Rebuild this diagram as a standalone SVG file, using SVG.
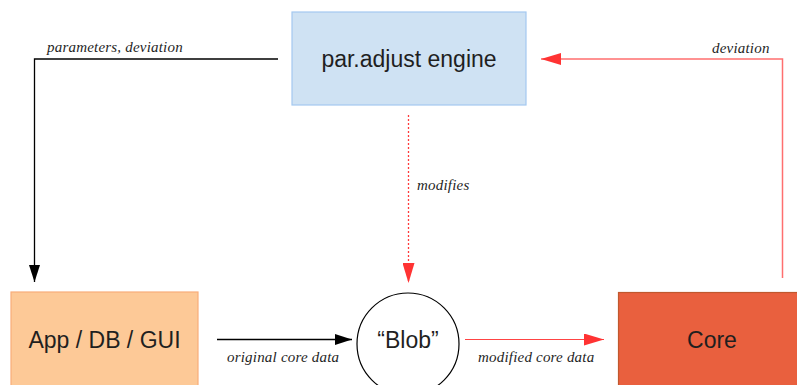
<svg xmlns="http://www.w3.org/2000/svg" width="797" height="385" viewBox="0 0 797 385">
  <style>
    .node-text { font-family: "Liberation Sans", Arial, sans-serif; font-size: 23px; fill: #1f1f1f; text-anchor: middle; }
    .label { font-family: "Liberation Serif", "Times New Roman", serif; font-style: italic; font-size: 15px; fill: #1f1f1f; letter-spacing: 0.2px; }
    .black { stroke: #000; stroke-width: 1.3; fill: none; }
    .red { stroke: #ff6f6f; stroke-width: 1.5; fill: none; }
    .red-dot { stroke: #ff3b3b; stroke-width: 1.3; stroke-dasharray: 2 2; fill: none; }
  </style>
  <defs>
    <marker id="ah-black" viewBox="0 0 17 11" refX="17" refY="5.5" markerWidth="17" markerHeight="11" markerUnits="userSpaceOnUse" orient="auto">
      <path d="M0,0 L17,5.5 L0,11 Z" fill="#000"/>
    </marker>
    <marker id="ah-red" viewBox="0 0 20 12" refX="20" refY="6" markerWidth="20" markerHeight="12" markerUnits="userSpaceOnUse" orient="auto">
      <path d="M0,0 L20,6 L0,12 Z" fill="#ff3333"/>
    </marker>
  </defs>

  <rect width="797" height="385" fill="#fff"/>

  <g id="engine">
    <rect x="292" y="12" width="234" height="93" fill="#cfe2f3" stroke="#a4c9f0" stroke-width="1.2"/>
    <text class="node-text" x="409" y="67">par.adjust engine</text>
  </g>

  <g id="app">
    <rect x="11" y="292" width="187" height="100" fill="#fdc997" stroke="#f9ad7a" stroke-width="1.2"/>
    <text class="node-text" x="104.5" y="348">App / DB / GUI</text>
  </g>

  <g id="blob">
    <circle cx="408" cy="344" r="51" fill="#fff" stroke="#000" stroke-width="1.2"/>
    <text class="node-text" x="408" y="348">“Blob”</text>
  </g>

  <g id="core">
    <rect x="618.5" y="292.5" width="185" height="100" fill="#e9603e" stroke="#c0582e" stroke-width="1.2"/>
    <text class="node-text" x="712" y="348">Core</text>
  </g>

  <g id="connectors">
    <path class="black" d="M278,59 H34.5 V282" marker-end="url(#ah-black)"/>
    <text class="label" x="47" y="52">parameters, deviation</text>

    <path class="red" d="M782.5,278 V59 H541" marker-end="url(#ah-red)"/>
    <text class="label" x="712" y="53">deviation</text>

    <path class="red-dot" d="M408.5,115 V283" marker-end="url(#ah-red)"/>
    <text class="label" x="417" y="190">modifies</text>

    <path class="black" d="M217,339.5 H352" marker-end="url(#ah-black)"/>
    <text class="label" x="227" y="362">original core data</text>

    <path class="red" d="M465,339.5 H604" marker-end="url(#ah-red)" style="stroke:#ff4444;stroke-width:1.2"/>
    <text class="label" x="478" y="362">modified core data</text>
  </g>
</svg>
